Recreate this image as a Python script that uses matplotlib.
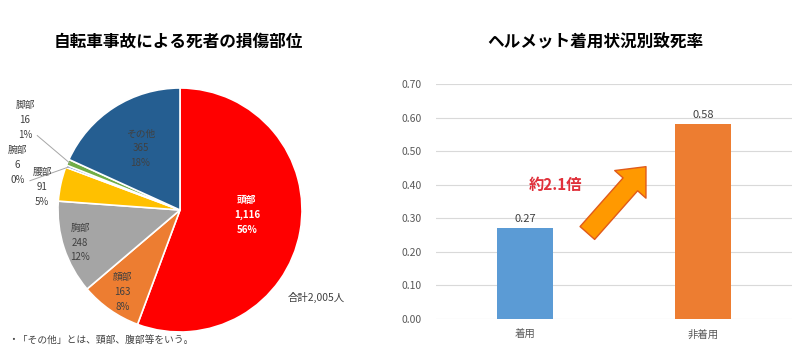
import numpy as np
import matplotlib
matplotlib.use("Agg")
import matplotlib.pyplot as plt
from matplotlib.patches import FancyArrowPatch, ArrowStyle

plt.rcParams['font.family'] = ['Noto Sans CJK JP', 'DejaVu Sans']

# ---- data ----
parts = ['頭部', '顔部', '胸部', '腰部', '腕部', '脚部', 'その他']
deaths = [1116, 163, 248, 91, 6, 16, 365]
pie_colors = ['#FF0000', '#ED7D31', '#A5A5A5', '#FFC000', '#4472C4', '#70AD47', '#255E91']
total_label = '合計2,005人'

helmet_cats = ['着用', '非着用']
fatality = [0.27, 0.58]
bar_colors = ['#5B9BD5', '#ED7D31']
ratio_text = '約2.1倍'

fig = plt.figure(figsize=(8, 3.6), dpi=100)

# ---- pie ----
axp = fig.add_axes([58/800, 28/360, 244/800, 244/360])
wedges, _ = axp.pie(deaths, colors=pie_colors, startangle=90, counterclock=False,
                    wedgeprops=dict(edgecolor='white', linewidth=1.2))
axp.set_xlim(-1, 1); axp.set_ylim(-1, 1); axp.set_aspect('equal')

total = sum(deaths)
# inside labels: radial distance; outside labels: explicit label position (pie units)
label_r = {'頭部': 0.55, '顔部': 0.82, '胸部': 0.86, 'その他': 0.6}
label_shift = {'頭部': 6}
outside_pos = {'腰部': (-1.13, 0.19), '腕部': (-1.33, 0.37), '脚部': (-1.27, 0.74)}
leader = {'腕部', '脚部'}
for w, name, v in zip(wedges, parts, deaths):
    mid = (w.theta1 + w.theta2) / 2
    if name in outside_pos:
        x, y = outside_pos[name]
    else:
        a = np.radians(mid + label_shift.get(name, 0))
        r = label_r[name]
        x, y = r*np.cos(a), r*np.sin(a)
    pct = f'{round(100*v/total):d}%'
    txt = f'{name}\n{v:,}\n{pct}'
    col = 'white' if name == '頭部' else '#404040'
    fw = 'bold' if name == '頭部' else 'normal'
    axp.text(x, y, txt, ha='center', va='center', fontsize=7, color=col,
             fontweight=fw, linespacing=1.6, clip_on=False)
    if name in leader:
        tmid = np.radians(mid)
        ex, ey = 0.98*np.cos(tmid), 0.98*np.sin(tmid)
        axp.plot([x + 0.1, ex], [y - 0.13, ey], color='#A6A6A6', lw=0.7, clip_on=False)

fig.text(345/800, 1-297/360, total_label, ha='right', va='center', fontsize=7.5, color='#404040')
fig.text(8/800, 1-340/360, '・「その他」とは、頸部、腹部等をいう。', ha='left', va='center',
         fontsize=7, color='#404040')
fig.text(178/800, 1-42/360, '自転車事故による死者の損傷部位', ha='center', va='center',
         fontsize=12, fontweight='bold')

# ---- bars ----
axb = fig.add_axes([436/800, 1-319/360, 356/800, 235/360])
xpos = np.arange(len(helmet_cats))
axb.bar(xpos, fatality, width=0.31, color=bar_colors, zorder=3)
axb.set_xlim(-0.5, 1.5)
axb.set_ylim(0, 0.70)
axb.set_yticks(np.arange(0, 0.701, 0.1))
axb.yaxis.set_major_formatter(matplotlib.ticker.FormatStrFormatter('%.2f'))
axb.set_xticks(xpos)
axb.set_xticklabels(helmet_cats)
axb.tick_params(axis='both', length=0, labelsize=7.5, labelcolor='#595959')
axb.tick_params(axis='y', pad=10)
axb.tick_params(axis='x', pad=8)
axb.grid(axis='y', color='#D9D9D9', lw=0.8, zorder=0)
for s in axb.spines.values():
    s.set_visible(False)
for xi, v in zip(xpos, fatality):
    axb.text(xi, v + 0.012, f'{v:.2f}', ha='center', va='bottom', fontsize=8, color='#404040')

arrow = FancyArrowPatch((0.34, 0.25), (0.69, 0.46),
                        arrowstyle=ArrowStyle.Simple(head_length=17, head_width=30, tail_width=14),
                        mutation_scale=1, facecolor='#FF9900', edgecolor='#E05A1A', lw=1, zorder=4)
axb.add_patch(arrow)
axb.text(0.17, 0.40, ratio_text, ha='center', va='center', fontsize=11, fontweight='bold',
         color='#E0303A')
fig.text(595/800, 1-42/360, 'ヘルメット着用状況別致死率', ha='center', va='center',
         fontsize=12, fontweight='bold')

fig.savefig('out.png', dpi=100)
